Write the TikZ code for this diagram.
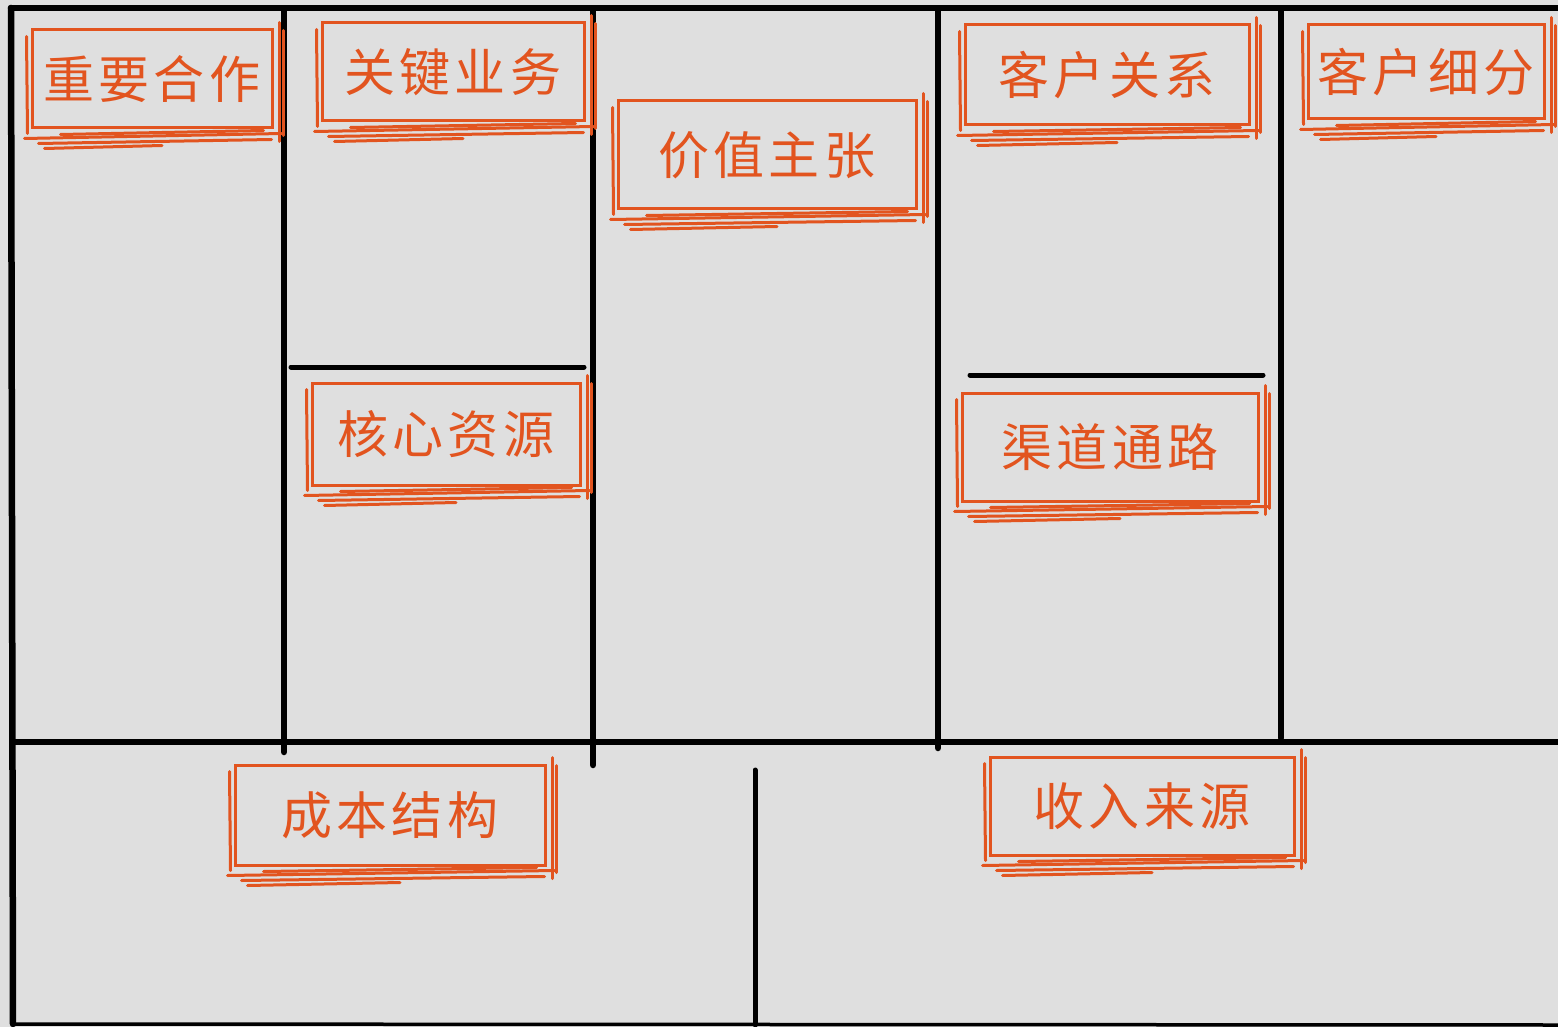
\documentclass[tikz,border=0pt]{standalone}
\usepackage{fontspec}
\newfontfamily\cjk[LetterSpace=8]{Noto Sans CJK SC}
\usetikzlibrary{calc}
\definecolor{orng}{HTML}{E2541F}
\definecolor{bg}{HTML}{DFDFDF}
\tikzset{
  gridline/.style={line width=6.5pt, black, line cap=round},
  thinline/.style={line width=5pt, black, line cap=round},
  lab/.style={font=\cjk\fontsize{51}{51}\selectfont, text=orng, draw=orng, line width=3pt, inner sep=0pt},
  sk/.style={orng, line width=3pt, line cap=round}
}
\newcommand\skbox[6]{%
  \node[lab, minimum width=#4pt, minimum height=#5pt] (#1) at (#2,#3) {#6};
  \draw[sk] ($(#1.south west)+(-6,9)$) -- ($(#1.south east)+(8,4)$);
  \draw[sk] ($(#1.south west)+(8,14)$) -- ($(#1.south east)+(-2,10)$);
  \draw[sk] ($(#1.south west)+(14,19)$) -- ($(#1.south)+(10,16)$);
  \draw[sk] ($(#1.south west)+(30,5)$) -- ($(#1.south east)+(-10,1)$);
  \draw[sk] ($(#1.north east)+(6,-6)$) -- ($(#1.south east)+(6,12)$);
  \draw[sk] ($(#1.north east)+(10,2)$) -- ($(#1.south east)+(10,6)$);
  \draw[sk] ($(#1.north west)+(-4,8)$) -- ($(#1.south west)+(-3,4)$);
}
\begin{document}
\begin{tikzpicture}[x=1pt,y=-1pt]
\fill[bg] (0,0) rectangle (1558,1027);
\useasboundingbox (0,0) rectangle (1558,1027);
% frame
\draw[gridline] (11,8) -- (1558,8);
\draw[gridline] (11,8) -- (13,1024);
\draw[black, line width=3.5pt] (12,1024) -- (1558,1025);
\draw[gridline] (13,742) -- (1558,742);
\draw[gridline] (284,10) -- (284,752);
\draw[gridline] (593,10) -- (593,765);
\draw[gridline] (938,10) -- (938,748);
\draw[gridline] (1281,10) -- (1281,738);
\draw[thinline] (291,367) -- (584,367);
\draw[thinline] (970,375) -- (1263,375);
\draw[thinline] (755,770) -- (755,1025);
% labels
\skbox{a}{152}{79}{240}{98}{重要合作}
\skbox{b}{453}{72}{262}{98}{关键业务}
\skbox{c}{767}{155}{298}{108}{价值主张}
\skbox{d}{1107}{75}{284}{100}{客户关系}
\skbox{e}{1426}{72}{236}{94}{客户细分}
\skbox{f}{446}{434}{268}{102}{核心资源}
\skbox{g}{1110}{447}{296}{108}{渠道通路}
\skbox{h}{390}{815}{310}{100}{成本结构}
\skbox{i}{1142}{806}{304}{98}{收入来源}
\end{tikzpicture}
\end{document}
